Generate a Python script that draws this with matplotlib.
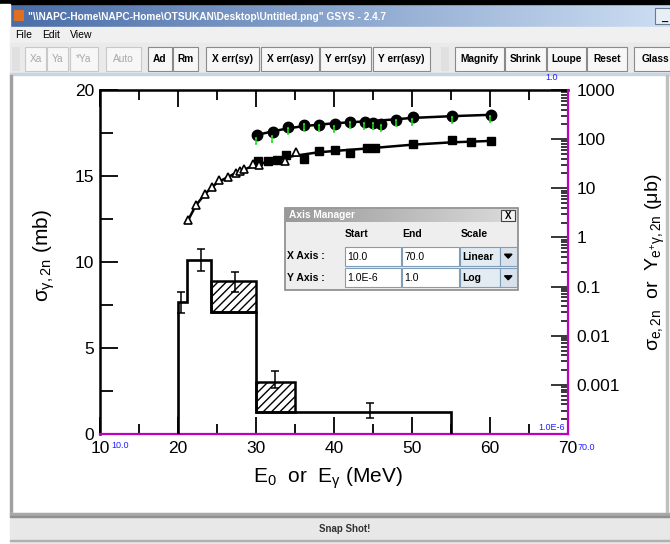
import matplotlib
matplotlib.use('Agg')
import matplotlib.pyplot as plt
from matplotlib.patches import Rectangle, Polygon
from matplotlib.path import Path
import numpy as np

plt.rcParams['font.family'] = ['Liberation Sans', 'DejaVu Sans']
plt.rcParams['mathtext.fontset'] = 'custom'
plt.rcParams['mathtext.rm'] = 'Liberation Sans'
plt.rcParams['mathtext.it'] = 'Liberation Sans'
plt.rcParams['mathtext.bf'] = 'Liberation Sans:bold'
plt.rcParams['hatch.linewidth'] = 1.0

# ---------------- data ----------------
circ_x = [30.1, 32.2, 34.1, 36.1, 38.1, 40.1, 42.1, 44.0, 45.0, 46.0, 48.0, 50.1, 55.1, 60.1]
circ_y = [120, 137, 173, 193, 193, 202, 225, 225, 212, 202, 248, 278, 300, 313]

up_fit_x = [30.1, 32, 34, 36, 38, 40, 43, 46, 50, 55, 60.1]
up_fit_y = [122, 142, 165, 183, 197, 210, 225, 240, 270, 293, 313]

green_x = [30.0, 32.0, 34.1, 36.1, 38.1, 40.0, 42.0, 43.9, 45.0, 46.0, 48.0, 50.0, 55.1, 60.0]
green_y = [90, 100, 148, 173, 165, 160, 193, 187, 182, 165, 209, 219, 248, 256]

sq_x = [30.2, 31.5, 32.7, 33.9, 36.1, 38.1, 40.1, 42.1, 44.2, 45.3, 50.1, 55.1, 57.6, 60.1]
sq_y = [36, 36, 37, 47, 40, 58, 60, 52, 65, 65, 79, 97, 88, 90]

tri_x = [21.3, 22.3, 23.5, 24.4, 25.3, 26.4, 27.4, 28.0, 28.5, 29.6, 30.4, 33.7, 35.1]
tri_y = [2.25, 4.5, 7.8, 10.8, 14.6, 17.3, 20.2, 22.5, 24.4, 31, 29.5, 36, 55]

low_fit_x = [21.3, 22.3, 23.5, 25, 27, 29, 31, 33, 35, 38, 41, 45, 50, 55, 60.1]
low_fit_y = [2.25, 4.5, 7.8, 13, 19, 26, 33, 40, 46, 54, 59, 66, 77, 86, 92]

hist_edges = [20.0, 21.2, 24.2, 30.0, 35.0, 55.0]
hist_vals = [7.7, 10.1, 7.1, 1.26, 1.26]
hatch_left = [24.2, 30.0]
hatch_width = [5.8, 5.0]
hatch_bottom = [7.1, 1.26]
hatch_top = [8.9, 3.04]

err_x = [20.4, 23.0, 27.3, 32.4, 44.6]
err_y = [7.66, 10.12, 8.85, 3.17, 1.37]
err_e = [0.6, 0.62, 0.58, 0.5, 0.43]

x_ticks = [10, 20, 30, 40, 50, 60, 70]
y_ticks = [0, 5, 10, 15, 20]
r_ticks = [1e-3, 1e-2, 1e-1, 1, 10, 100, 1000]
r_labels = ['0.001', '0.01', '0.1', '1', '10', '100', '1000']

toolbar = [("Xa", 25, 46, False), ("Ya", 47, 68, False), ("*Ya", 70, 98, False),
           ("Auto", 106, 141, False), ("Ad", 148, 172, True), ("Rm", 173, 198, True),
           ("X err(sy)", 206, 259, True), ("X err(asy)", 261, 319, True),
           ("Y err(sy)", 320, 371, True), ("Y err(asy)", 373, 430, True),
           ("Magnify", 455, 504, True), ("Shrink", 505, 546, True),
           ("Loupe", 547, 586, True), ("Reset", 587, 627, True), ("Glass", 634, 676, True)]

W, H = 670, 544
fig = plt.figure(figsize=(W / 100, H / 100), dpi=100)
fig.patch.set_facecolor('white')


def fx(px):
    return px / W


def fy(py):
    return 1 - py / H


# ---------------- window chrome ----------------
bg = fig.add_axes([0, 0, 1, 1], zorder=0)
bg.axis('off')
grad = np.linspace(0, 1, 256)
c0 = np.array([0.29, 0.43, 0.66])
c1 = np.array([0.80, 0.87, 0.95])
img = (c0[None, :] * (1 - grad[:, None]) + c1[None, :] * grad[:, None])[None, :, :]
bg.imshow(img, extent=(10, 670, 27, 5), aspect='auto', zorder=1)
bg.add_patch(Rectangle((0, 0), 670, 4, color='black', zorder=2))
bg.add_patch(Rectangle((0, 4), 10, 540, color='white', zorder=2))
bg.add_patch(Rectangle((13, 9), 11, 12, facecolor='#e07020', edgecolor='#5070a0', lw=0.8, zorder=3))
bg.text(28, 16.5, '"\\\\NAPC-Home\\NAPC-Home\\OTSUKAN\\Desktop\\Untitled.png" GSYS - 2.4.7',
        color='white', fontsize=7.3, fontweight='bold', va='center', ha='left', zorder=3)
bg.add_patch(Rectangle((655, 8), 16, 16, facecolor='#e8eef6', edgecolor='#6a7a90', lw=0.8, zorder=3))
bg.text(661, 18, '_', fontsize=8, fontweight='bold', va='center', zorder=4)
# menu bar
bg.add_patch(Rectangle((10, 27), 660, 16, color='#f0f0f0', zorder=2))
for lab, xx in [("File", 15), ("Edit", 42), ("View", 70)]:
    bg.text(xx, 35, lab, fontsize=7.5, va='center', ha='left', zorder=3)
# toolbar
bg.add_patch(Rectangle((10, 43), 660, 31, color='#eaeaea', zorder=2))
for gx in (12, 441):
    bg.add_patch(Rectangle((gx, 47), 8, 24, facecolor='#e0e0e0', edgecolor='none',
                           hatch='....', zorder=3))
for lab, x0, x1, en in toolbar:
    bg.add_patch(Rectangle((x0, 47), x1 - x0, 24, facecolor='#f7f7f7',
                           edgecolor='#8a8a8a' if en else '#c8c8c8', lw=0.8, zorder=3))
    bg.text((x0 + x1) / 2, 59.5, lab, fontsize=7.3, fontweight='bold' if en else 'normal',
            color='black' if en else '#a8a8a8', ha='center', va='center', zorder=4)
bg.add_patch(Rectangle((10, 73), 660, 2, color='#c8d4e0', zorder=2))
# content frame
bg.add_patch(Rectangle((10, 75), 1.5, 440, color='#a0a0a0', zorder=2))
bg.add_patch(Rectangle((666, 75), 1.5, 440, color='#c0c0c0', zorder=2))
bg.add_patch(Rectangle((10, 513), 660, 31, color='#e8e8e8', zorder=2))
bg.add_patch(Rectangle((10, 513), 660, 1.5, color='#a8a8a8', zorder=3))
bg.add_patch(Rectangle((10, 516), 660, 1.2, color='#909090', zorder=3))
bg.add_patch(Rectangle((10, 540), 660, 1.0, color='#b0b0b0', zorder=3))
bg.text(345, 529, 'Snap Shot!', fontsize=7, fontweight='bold', ha='center', va='center',
        color='#333333', zorder=4)
bg.set_xlim(0, W)
bg.set_ylim(H, 0)

# ---------------- main chart ----------------
ax = fig.add_axes([fx(100), fy(434), fx(568) - fx(100), fy(90) - fy(434)], zorder=1)
ax.set_xlim(10, 70)
ax.set_ylim(0, 20)
ax.set_facecolor('white')

ax.stairs(hist_vals, hist_edges, baseline=0, color='black', lw=1.9, zorder=3)
ax.bar(hatch_left, [t - b for t, b in zip(hatch_top, hatch_bottom)], width=hatch_width,
       bottom=hatch_bottom, align='edge', fill=False, hatch='////', edgecolor='black',
       lw=1.8, zorder=3)
ax.errorbar(err_x, err_y, yerr=err_e, fmt='none', ecolor='black', elinewidth=1.1,
            capsize=3, capthick=1.1, zorder=4)

ax.set_xticks(x_ticks)
ax.set_xticks([15, 25, 35, 45, 55, 65], minor=True)
ax.set_yticks(y_ticks)
ax.set_yticks([2.5, 7.5, 12.5, 17.5], minor=True)
ax.tick_params(which='both', direction='in', top=True, right=False, width=1.3, labelsize=12.5)
ax.tick_params(which='major', length=12)
ax.tick_params(which='minor', length=7)
ax.tick_params(axis='y', which='major', length=13, pad=4)
ax.tick_params(axis='y', which='minor', length=9)
ax.tick_params(axis='x', pad=5)
for s in ('left', 'top'):
    ax.spines[s].set_linewidth(1.8)
ax.spines['bottom'].set_color('#c000c0')
ax.spines['bottom'].set_linewidth(1.6)
ax.spines['right'].set_visible(False)

ax2 = ax.twinx()
ax2.set_yscale('log')
ax2.set_ylim(1e-4, 1e3)
ax2.set_yticks(r_ticks)
ax2.set_yticklabels(r_labels)
ax2.yaxis.set_minor_locator(matplotlib.ticker.LogLocator(base=10, subs=np.arange(2, 10), numticks=20))
ax2.yaxis.set_minor_formatter(matplotlib.ticker.NullFormatter())
ax2.tick_params(which='both', direction='in', width=1.1, labelsize=12.5, pad=6)
ax2.tick_params(which='major', length=12)
ax2.tick_params(which='minor', length=5)
for s in ('left', 'top', 'bottom'):
    ax2.spines[s].set_visible(False)
ax2.spines['right'].set_color('#c000c0')
ax2.spines['right'].set_linewidth(1.6)

ax2.plot(up_fit_x, up_fit_y, color='black', lw=1.8, zorder=3)
ax2.plot(circ_x, circ_y, 'o', color='black', ms=7.5, zorder=4)
ax2.plot(low_fit_x, low_fit_y, color='black', lw=1.8, zorder=3)
ax2.plot(sq_x, sq_y, 's', color='black', ms=6, zorder=4)
ax2.plot(tri_x, tri_y, '^', mfc='white', mec='black', mew=1.2, ms=6, zorder=5)

ibar = Path([(-0.5, -1), (0.5, -1), (0, -1), (0, 1), (-0.5, 1), (0.5, 1)],
            [Path.MOVETO, Path.LINETO, Path.MOVETO, Path.LINETO, Path.MOVETO, Path.LINETO])
ax2.plot(green_x, green_y, ls='none', marker=ibar, ms=4, mec='#20e020', mew=1.1, zorder=6)

# axis titles
fig.text(fx(328), fy(478), r'E$_0$  or  E$_\gamma$ (MeV)', fontsize=15, ha='center', va='center')
fig.text(fx(44), fy(256), r'$\sigma_{\gamma,2n}$ (mb)', fontsize=15, rotation=90,
         ha='center', va='center')
fig.text(fx(655), fy(262), r'$\sigma_{e,2n}$  or  $Y_{e^{+}\gamma,2n}$ ($\mu$b)', fontsize=14,
         rotation=90, ha='center', va='center')

# ---------------- overlay: GSYS labels and Axis Manager dialog ----------------
ov = fig.add_axes([0, 0, 1, 1], zorder=5)
ov.axis('off')
ov.patch.set_alpha(0)
blue = '#2020ff'
ov.text(111, 446, '10.0', color=blue, fontsize=6.5, ha='left', va='center')
ov.text(578, 447, '70.0', color=blue, fontsize=6.5, ha='left', va='center')
ov.text(552, 78, '1.0', color=blue, fontsize=6.5, ha='center', va='center')
ov.text(565, 428, '1.0E-6', color=blue, fontsize=6.5, ha='right', va='center')

ov.add_patch(Rectangle((285, 208), 233, 82, facecolor='#eeeeee', edgecolor='#8a8a8a', lw=1.2))
tgrad = np.linspace(0, 1, 256)
t0 = np.array([0.60, 0.60, 0.60])
t1 = np.array([0.86, 0.86, 0.86])
timg = (t0[None, :] * (1 - tgrad[:, None]) + t1[None, :] * tgrad[:, None])[None, :, :]
ov.imshow(timg, extent=(286, 517, 222, 209), aspect='auto', zorder=2)
ov.text(289, 215.5, 'Axis Manager', color='white', fontsize=7.3, fontweight='bold',
        ha='left', va='center', zorder=3)
ov.add_patch(Rectangle((501, 210), 14, 11, facecolor='#f2f2f2', edgecolor='#444444', lw=0.8, zorder=3))
ov.text(508, 215.7, 'X', fontsize=7, fontweight='bold', ha='center', va='center', zorder=4)
for lab, xx in [("Start", 345), ("End", 402), ("Scale", 461)]:
    ov.text(xx, 234, lab, fontsize=7.5, fontweight='bold', ha='left', va='center', zorder=3)
rows = [("X Axis :", 246.7, "10.0", "70.0", "Linear"), ("Y Axis :", 268.3, "1.0E-6", "1.0", "Log")]
for lab, yy, v1, v2, sc in rows:
    ov.text(287, yy + 9.5, lab, fontsize=7.5, fontweight='bold', ha='left', va='center', zorder=3)
    ov.add_patch(Rectangle((345, yy), 55.5, 19, facecolor='white', edgecolor='#7f9db9', lw=0.8, zorder=3))
    ov.add_patch(Rectangle((401.7, yy), 57, 19, facecolor='white', edgecolor='#7f9db9', lw=0.8, zorder=3))
    ov.add_patch(Rectangle((460, yy), 40, 19, facecolor='#e3ebf3', edgecolor='#7f9db9', lw=0.8, zorder=3))
    ov.add_patch(Rectangle((500, yy), 16.5, 19, facecolor='#d8e2ec', edgecolor='#7f9db9', lw=0.8, zorder=3))
    ov.add_patch(Polygon([(504.5, yy + 7.5), (512, yy + 7.5), (508.25, yy + 11.5)],
                         closed=True, color='black', zorder=4))
    ov.text(347, yy + 9.8, v1, fontsize=7.5, ha='left', va='center', zorder=4)
    ov.text(404, yy + 9.8, v2, fontsize=7.5, ha='left', va='center', zorder=4)
    ov.text(462, yy + 9.8, sc, fontsize=7.5, fontweight='bold', ha='left', va='center', zorder=4)
ov.set_xlim(0, W)
ov.set_ylim(H, 0)

fig.savefig('out.png', dpi=100)
